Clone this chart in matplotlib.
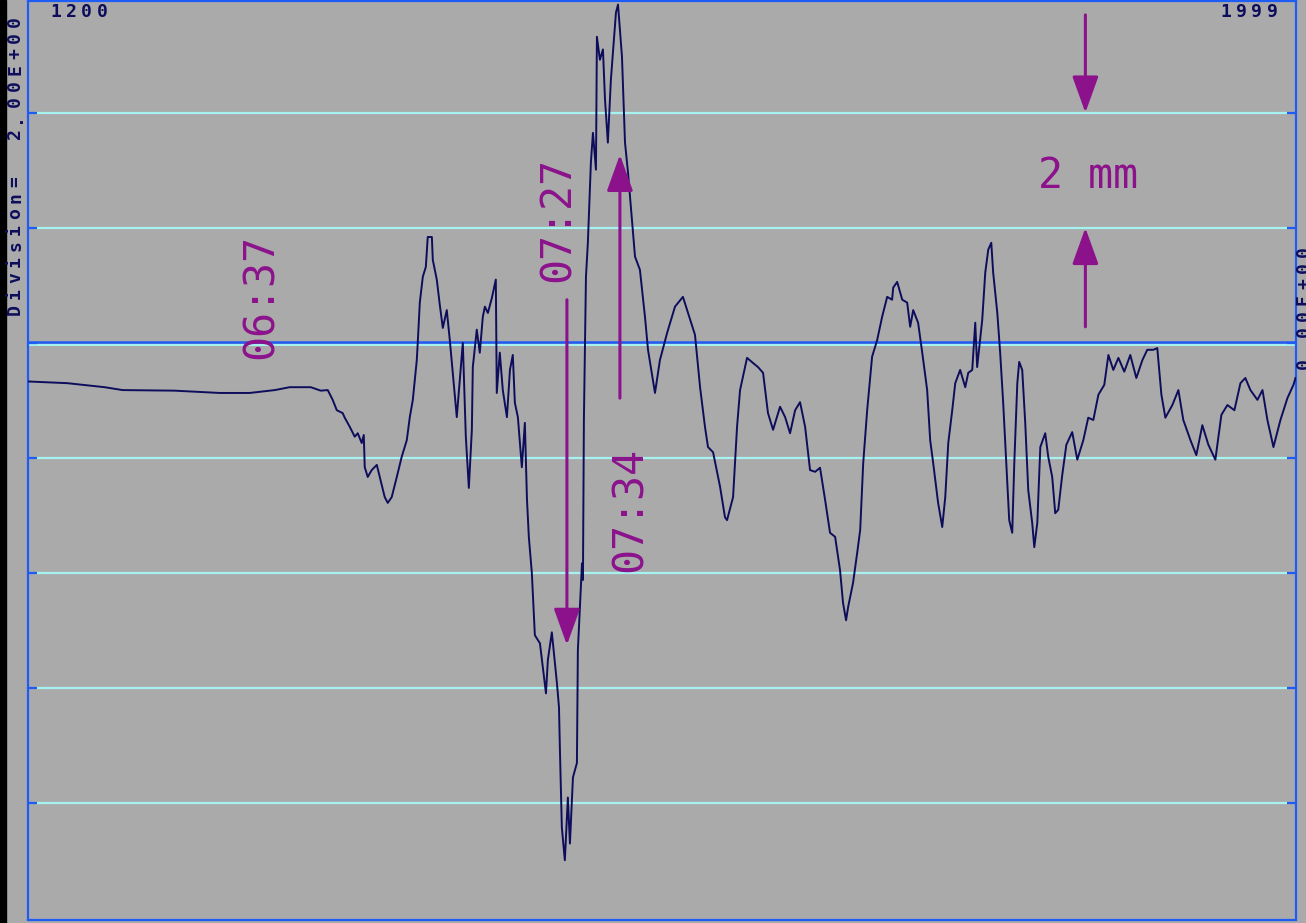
import matplotlib
matplotlib.use("Agg")
import matplotlib.pyplot as plt
from matplotlib.patches import FancyArrowPatch, Rectangle
from matplotlib.transforms import IdentityTransform

# ---------------- data ----------------
samples = [
    1200.0, 1225.2, 1248.6, 1259.9, 1292.7, 1321.1, 1340.0, 1355.8, 1365.2, 1378.5,
    1384.8, 1389.2, 1392.3, 1394.9, 1398.6, 1399.9, 1403.1, 1406.2, 1408.1, 1410.6,
    1411.9, 1412.5, 1414.4, 1416.9, 1420.1, 1422.0, 1425.1, 1427.0, 1429.5, 1432.7,
    1435.8, 1439.0, 1440.9, 1442.8, 1445.3, 1445.9, 1447.2, 1449.1, 1451.0, 1452.2,
    1454.8, 1455.4, 1457.9, 1459.8, 1461.7, 1464.2, 1466.1, 1468.0, 1470.5, 1472.4,
    1474.3, 1476.2, 1478.1, 1480.0, 1480.6, 1483.1, 1485.0, 1486.9, 1488.2, 1490.1,
    1492.6, 1495.1, 1495.7, 1497.6, 1499.5, 1502.1, 1504.0, 1505.8, 1507.1, 1509.0,
    1511.5, 1513.4, 1514.7, 1515.9, 1517.8, 1519.7, 1522.9, 1526.7, 1527.9, 1530.4,
    1533.6, 1534.9, 1535.5, 1536.7, 1538.6, 1540.5, 1541.8, 1543.7, 1546.2, 1546.8,
    1549.4, 1550.0, 1550.6, 1551.9, 1553.1, 1555.0, 1556.3, 1558.2, 1558.8, 1560.7,
    1562.6, 1563.9, 1565.7, 1567.6, 1568.9, 1570.8, 1572.1, 1574.6, 1576.5, 1578.4,
    1580.9, 1582.8, 1585.9, 1589.1, 1591.0, 1595.4, 1598.5, 1603.0, 1608.0, 1613.0,
    1616.2, 1620.6, 1623.8, 1626.9, 1628.8, 1632.0, 1636.4, 1639.5, 1640.8, 1644.6,
    1647.1, 1649.0, 1653.4, 1657.2, 1660.3, 1663.5, 1666.6, 1669.8, 1674.2, 1677.4,
    1680.5, 1683.7, 1686.8, 1690.0, 1693.1, 1696.3, 1699.4, 1702.6, 1705.7, 1708.9,
    1712.0, 1713.9, 1715.8, 1717.1, 1720.2, 1722.8, 1724.7, 1726.6, 1729.1, 1732.2,
    1735.4, 1738.5, 1741.7, 1744.8, 1745.5, 1748.0, 1751.2, 1754.3, 1756.2, 1758.1,
    1761.2, 1763.8, 1766.9, 1768.8, 1770.7, 1773.8, 1776.4, 1778.3, 1780.2, 1782.7,
    1784.6, 1787.7, 1790.9, 1792.8, 1795.3, 1797.2, 1798.4, 1801.6, 1803.5, 1805.4,
    1807.3, 1808.5, 1811.1, 1812.9, 1814.8, 1817.4, 1818.6, 1820.5, 1821.8, 1823.7,
    1824.9, 1826.8, 1828.7, 1830.6, 1833.1, 1834.4, 1836.3, 1838.2, 1841.3, 1843.2,
    1845.7, 1847.6, 1849.5, 1852.0, 1854.6, 1858.3, 1861.5, 1865.3, 1868.4, 1871.6,
    1874.8, 1878.5, 1881.1, 1884.2, 1887.4, 1891.1, 1894.9, 1898.7, 1902.5, 1905.6,
    1909.4, 1911.9, 1914.5, 1917.0, 1921.4, 1925.2, 1928.3, 1932.8, 1936.5, 1940.3,
    1944.1, 1948.5, 1952.3, 1956.1, 1960.5, 1964.3, 1967.4, 1970.6, 1975.0, 1978.2,
    1981.3, 1985.1, 1989.5, 1993.9, 1997.7, 1999.0,
]
values = [
    -0.67, -0.70, -0.77, -0.82, -0.83, -0.87, -0.87, -0.82, -0.77, -0.77,
    -0.83, -0.82, -0.99, -1.17, -1.22, -1.30, -1.46, -1.63, -1.57, -1.74,
    -1.60, -2.16, -2.33, -2.21, -2.12, -2.33, -2.68, -2.78, -2.68, -2.33,
    -1.98, -1.69, -1.29, -0.99, -0.30, 0.00, 0.70, 1.15, 1.32, 1.84,
    1.84, 1.44, 1.10, 0.66, 0.26, 0.57, 0.05, -0.52, -1.29, -0.64,
    0.00, -1.63, -2.52, -1.51, -0.42, 0.23, -0.17, 0.45, 0.63, 0.52,
    0.78, 1.10, -0.87, -0.17, -0.82, -1.29, -0.47, -0.21, -1.04, -1.29,
    -2.16, -1.39, -2.70, -3.37, -4.00, -5.08, -5.22, -6.09, -5.51, -5.03,
    -5.91, -6.33, -7.08, -8.42, -8.99, -7.90, -8.70, -7.55, -7.30, -5.34,
    -3.83, -4.12, -1.34, 1.15, 1.74, 3.13, 3.65, 3.01, 5.32, 4.92,
    5.10, 4.23, 3.48, 4.57, 5.04, 5.74, 5.88, 4.97, 3.48, 2.96,
    2.14, 1.50, 1.27, 0.45, -0.12, -0.87, -0.30, 0.17, 0.63, 0.80,
    0.52, 0.14, -0.77, -1.46, -1.81, -1.90, -2.50, -3.03, -3.08, -2.68,
    -1.46, -0.82, -0.26, -0.35, -0.42, -0.52, -1.22, -1.51, -1.11, -1.29,
    -1.57, -1.17, -1.03, -1.46, -2.21, -2.24, -2.17, -2.73, -3.30, -3.37,
    -3.95, -4.52, -4.82, -4.59, -4.17, -3.65, -3.25, -2.09, -1.17, -0.24,
    0.05, 0.45, 0.80, 0.75, 0.96, 1.06, 0.75, 0.70, 0.28, 0.57,
    0.35, -0.17, -0.82, -1.69, -2.09, -2.78, -3.20, -2.68, -1.74, -1.17,
    -0.70, -0.47, -0.77, -0.52, -0.47, 0.35, -0.42, 0.40, 1.22, 1.62,
    1.74, 1.22, 0.52, -0.17, -1.04, -2.43, -3.08, -3.30, -2.09, -0.70,
    -0.33, -0.47, -1.39, -2.56, -3.13, -3.55, -3.13, -1.81, -1.57, -1.98,
    -2.33, -2.96, -2.90, -2.30, -1.77, -1.55, -2.03, -1.69, -1.30, -1.34,
    -0.90, -0.73, -0.21, -0.47, -0.26, -0.50, -0.21, -0.61, -0.30, -0.12,
    -0.12, -0.09, -0.90, -1.30, -1.08, -0.82, -1.34, -1.69, -1.95, -1.43,
    -1.77, -2.03, -1.25, -1.08, -1.17, -0.70, -0.61, -0.82, -0.99, -0.82,
    -1.34, -1.81, -1.34, -0.96, -0.73, -0.61,
]

x_start_label = "1200"
x_end_label = "1999"
division_label = "Division=  2.00E+00"
zero_label = "0.00E+00"
grid_levels = [4, 2, 0, -2, -4, -6, -8]
time_labels = ["06:37", "07:27", "07:34"]
scale_label = "2 mm"

# ---------------- style ----------------
W, H = 1306, 923
BG = "#aaaaaa"
BLUE = "#1f5cf5"
CYAN = "#a6f2f0"
TRACE = "#0d0d5c"
NAVY = "#0d0d5c"
PURPLE = "#8b128b"

fig = plt.figure(figsize=(W / 100, H / 100), dpi=100, facecolor=BG)
fig.patches.append(Rectangle((0, 0), 6 / W, 1, transform=fig.transFigure,
                             color="black", zorder=0))

ax = fig.add_axes([27.5 / W, (H - 919.5) / H, (1295.5 - 27.5) / W, (919.5 - 0.5) / H])
ax.set_facecolor(BG)
ax.set_xlim(1200, 1999)
ax.set_ylim(-10.02, 5.95)

for s in ax.spines.values():
    s.set_color(BLUE)
    s.set_linewidth(1.6)

ax.set_xticks([])
ax.set_yticks(grid_levels)
ax.tick_params(axis="y", direction="in", length=6.5, width=1.6, color=BLUE,
               left=True, right=True, labelleft=False, labelright=False)

frac = 9.5 / 1268
for lv in grid_levels:
    if lv == 0:
        ax.axhline(lv - 0.035, color=CYAN, lw=1.4, zorder=1)
        ax.axhline(lv + 0.01, color=BLUE, lw=1.8, zorder=1.5)
    else:
        ax.axhline(lv, xmin=frac, xmax=1 - frac, color=CYAN, lw=1.6, zorder=1)

ax.plot(samples, values, color=TRACE, lw=1.4, zorder=3)


# ---------------- arrows ----------------
def arrow(x, y0, y1):
    ax.add_patch(FancyArrowPatch((x, y0), (x, y1),
                                 arrowstyle="-|>,head_length=1.25,head_width=0.45",
                                 mutation_scale=18, color=PURPLE, lw=2.2,
                                 shrinkA=0, shrinkB=0, zorder=4))


arrow(1539.9, 0.75, -5.25)
arrow(1573.3, -0.96, 3.27)
arrow(1866.6, 5.70, 4.0)
arrow(1866.6, 0.28, 2.0)

# ---------------- purple labels ----------------
pk = dict(color=PURPLE, fontsize=30, family="DejaVu Sans Mono", rotation=90,
          rotation_mode="anchor", ha="center", va="baseline", zorder=5)
ax.text(1354.5, 0.80, time_labels[0], **pk)
ax.text(1541.8, 2.14, time_labels[1], **pk)
ax.text(1587.2, -2.90, time_labels[2], **pk)
ax.text(1837.0, 2.70, scale_label, color=PURPLE, fontsize=30,
        family="DejaVu Sans Mono", ha="left", va="baseline", zorder=5)


# ---------------- navy monospaced labels (char by char) ----------------
def mono(s, x, y, pitch, vertical=False):
    for i, c in enumerate(s):
        if c == " ":
            continue
        if vertical:
            fig.text(x, H - (y - pitch * (i + 0.5)), c, transform=IdentityTransform(),
                     rotation=90, rotation_mode="anchor", ha="center", va="baseline",
                     color=NAVY, fontsize=13, fontweight="bold",
                     family="DejaVu Sans Mono")
        else:
            fig.text(x + pitch * (i + 0.5), H - y, c, transform=IdentityTransform(),
                     ha="center", va="baseline", color=NAVY, fontsize=13,
                     fontweight="bold", family="DejaVu Sans Mono")


mono(x_start_label, 48, 17, 15.5)
mono(x_end_label, 1218, 17, 15.5)
mono(division_label, 20, 318, 16, vertical=True)
mono(zero_label, 1309, 372, 16, vertical=True)

fig.savefig("out.png", dpi=100, facecolor=BG)
